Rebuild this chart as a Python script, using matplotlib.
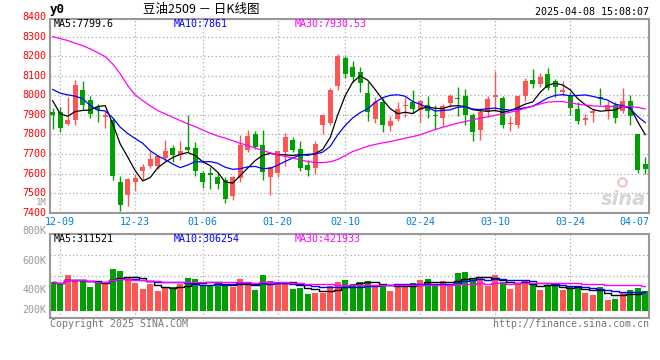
#!/usr/bin/env python3
"""
Sina style daily K-line chart for soybean oil futures (豆油2509).
Candles with MA5/MA10/MA30 on top, volume bars with their MAs below.
"""

import numpy as np
import pandas as pd
import matplotlib
matplotlib.use("Agg")
import matplotlib.pyplot as plt

W, H = 660, 360

# trading days 2024-12-06 .. 2025-04-08 (exchange holidays removed)
holidays = ['2025-01-01', '2025-01-28', '2025-01-29', '2025-01-30', '2025-01-31',
            '2025-02-03', '2025-02-04', '2025-04-04']
dates = pd.bdate_range('2024-12-06', '2025-04-08', freq='C', holidays=holidays)
day_labels = dates.strftime('%m-%d').tolist()

tick_labels = ['12-09', '12-23', '01-06', '01-20', '02-10', '02-24', '03-10', '03-24']
last_label = '04-07'

opens = [7915, 7915, 7854, 7875, 8028, 7977, 7939, 7887, 7875, 7556,
         7488, 7559, 7611, 7641, 7641, 7682, 7732, 7697, 7738, 7732,
         7602, 7602, 7582, 7565, 7483, 7576, 7721, 7801, 7747, 7582,
         7602, 7709, 7772, 7726, 7645, 7628, 7849, 7861, 8050, 8191,
         8144, 8118, 8013, 7880, 7965, 7841, 7880, 7943, 7965, 7926,
         7948, 7900, 7885, 7961, 7987, 7999, 7900, 7825, 7917, 7992,
         7985, 7851, 7849, 7999, 8079, 8059, 8110, 8072, 8016, 7999,
         7931, 7876, 7910, 7990, 7926, 7948, 7919, 7972, 7803, 7650]
highs = [7936, 7941, 7989, 8076, 8074, 7997, 7956, 7919, 7883, 7590,
         7578, 7600, 7650, 7716, 7696, 7772, 7747, 7764, 7897, 7760,
         7611, 7634, 7607, 7585, 7590, 7795, 7825, 7818, 7825, 7634,
         7713, 7808, 7789, 7767, 7667, 7766, 7905, 8036, 8212, 8200,
         8174, 8144, 8067, 7990, 7985, 7893, 7968, 7990, 8025, 7977,
         7999, 7948, 7956, 8007, 8045, 8033, 7910, 7936, 7994, 8122,
         7999, 7893, 8002, 8088, 8135, 8113, 8140, 8084, 8072, 8016,
         7968, 7905, 7931, 8038, 7970, 7965, 8036, 8002, 7803, 7687]
lows = [7829, 7815, 7849, 7846, 7927, 7885, 7863, 7834, 7568, 7411,
        7432, 7512, 7568, 7628, 7624, 7663, 7658, 7670, 7709, 7590,
        7527, 7522, 7519, 7450, 7466, 7556, 7709, 7726, 7565, 7493,
        7585, 7641, 7709, 7611, 7590, 7599, 7800, 7849, 8025, 8088,
        8067, 8016, 7871, 7859, 7815, 7820, 7871, 7888, 7910, 7863,
        7885, 7829, 7841, 7939, 7892, 7849, 7769, 7774, 7888, 7922,
        7832, 7820, 7832, 7973, 8036, 8045, 8025, 7990, 7996, 7900,
        7854, 7849, 7866, 7953, 7880, 7859, 7910, 7849, 7604, 7599]
closes = [7897, 7835, 7875, 8053, 7953, 7907, 7926, 7897, 7590, 7437,
          7573, 7578, 7634, 7675, 7689, 7716, 7697, 7714, 7723, 7611,
          7559, 7594, 7548, 7471, 7585, 7747, 7791, 7738, 7607, 7633,
          7713, 7788, 7723, 7628, 7616, 7752, 7900, 8028, 8203, 8110,
          8096, 8062, 7914, 7965, 7849, 7871, 7931, 7951, 7931, 7970,
          7922, 7892, 7946, 7994, 7982, 7897, 7815, 7917, 7982, 8002,
          7849, 7859, 7994, 8071, 8059, 8096, 8038, 8045, 8025, 7936,
          7871, 7883, 7922, 7982, 7953, 7885, 7973, 7892, 7619, 7624]
# closes before the window, estimated from where MA5/MA10 start
pre_closes = [8025, 7965, 8113, 8093, 8244, 8170, 7935, 7933, 7925]
# MA30 (needs a month of history not shown)
ma30 = [8300, 8290, 8280, 8266, 8254, 8237, 8218, 8198, 8160, 8110,
        8050, 8002, 7973, 7946, 7922, 7905, 7888, 7871, 7854, 7840,
        7823, 7806, 7792, 7781, 7768, 7755, 7744, 7730, 7718, 7706,
        7696, 7688, 7680, 7670, 7662, 7656, 7656, 7660, 7672, 7692,
        7713, 7726, 7740, 7749, 7757, 7764, 7772, 7781, 7789, 7798,
        7812, 7825, 7837, 7847, 7858, 7866, 7875, 7883, 7890, 7898,
        7905, 7914, 7921, 7934, 7944, 7956, 7965, 7968, 7968, 7961,
        7955, 7950, 7946, 7944, 7943, 7943, 7943, 7943, 7938, 7930]
volumes = [490, 463, 603, 519, 502, 401, 473, 473, 705, 671,
           564, 463, 367, 451, 338, 395, 395, 446, 553, 536,
           434, 429, 463, 434, 395, 536, 434, 350, 603, 502,
           463, 463, 367, 384, 282, 299, 299, 426, 485, 519,
           451, 485, 502, 434, 417, 338, 417, 451, 468, 519,
           536, 434, 502, 417, 637, 654, 553, 570, 423, 603,
           485, 367, 468, 502, 439, 350, 417, 429, 350, 406,
           389, 299, 265, 401, 181, 198, 294, 350, 384, 333]  # thousands

price_ticks = [7400, 7500, 7600, 7700, 7800, 7900, 8000, 8100, 8200, 8300, 8400]
vol_tick_labels = ['800K', '600K', '400K', '200K']

title_main = '豆油2509 － 日K线图'
stamp = '2025-04-08 15:08:07'
ma_texts = ['MA5:7799.6', 'MA10:7861', 'MA30:7930.53']
vol_ma_texts = ['MA5:311521', 'MA10:306254', 'MA30:421933']

RED = '#FF5555'
GREEN = '#00A000'
MA_COLORS = ['black', '#0000FF', '#FF00FF']
FRAME = '#999999'
GRID = '#AAAAAA'
MONO = 'DejaVu Sans Mono'
CJK = ['Noto Sans CJK SC', 'DejaVu Sans']


def px(x, y):
    """pixel position -> figure fraction"""
    return x / W, 1 - y / H


def style_axes(ax, xticks):
    for s in ax.spines.values():
        s.set_color(FRAME)
        s.set_linewidth(1.5)
    ax.set_xticks([])
    ax.set_yticks([])
    for x in xticks:
        ax.axvline(x, color=GRID, lw=0.9, ls=(0, (1, 2)), zorder=0)


def draw_price(ax, x, xticks):
    o, h, l, c = map(np.asarray, (opens, highs, lows, closes))
    cols = np.where(c >= o, RED, GREEN)
    ax.vlines(x, l, h, colors=cols, lw=1, zorder=2)
    body = np.maximum(np.abs(c - o), 5)
    ax.bar(x, body, bottom=np.minimum(o, c), width=0.7, color=cols, lw=0, zorder=3)

    ext = pd.Series(pre_closes + closes)
    n0 = len(pre_closes)
    ma5 = ext.rolling(5).mean().to_numpy()[n0:]
    ma10 = ext.rolling(10).mean().to_numpy()[n0:]
    for vals, col in zip([ma5, ma10, ma30], MA_COLORS):
        ax.plot(x, vals, color=col, lw=0.9, zorder=4)

    for p in price_ticks[1:-1]:
        ax.axhline(p, color=GRID, lw=0.9, ls=(0, (1, 2)), zorder=0)
    ax.set_xlim(-0.36, 79.5)
    ax.set_ylim(7400, 8390)
    style_axes(ax, xticks)

    for p in price_ticks:
        ax.text(-0.006, p, str(p), transform=ax.get_yaxis_transform(),
                ha='right', va='center', color='#FF0000', fontsize=7.2,
                family=MONO, clip_on=False)

    # watermark
    ax.text(0.995, 0.07, 'sina', transform=ax.transAxes, ha='right', va='center',
            fontsize=14, fontweight='bold', style='italic', color='#D6D6D6', zorder=1)
    ax.plot(0.955, 0.16, 'o', transform=ax.transAxes, ms=6, mfc='none',
            mec='#F2C0C0', mew=1.5, zorder=1)


def draw_volume(ax, x, xticks):
    v = np.asarray(volumes) * 1000.0
    cols = np.where(np.asarray(closes) >= np.asarray(opens), RED, GREEN)
    ax.bar(x, v, width=0.8, color=cols, lw=0, zorder=2)
    vs = pd.Series(v)
    for n, col in zip([5, 10, 30], MA_COLORS):
        ax.plot(x, vs.rolling(n, min_periods=1).mean(), color=col, lw=1,
                drawstyle='steps-mid', zorder=3)
    for frac in [0.25, 0.5, 0.75]:
        ax.plot([0, 1], [frac, frac], transform=ax.transAxes, color=GRID,
                lw=0.9, ls=(0, (1, 2)), zorder=0)
    ax.set_xlim(-0.36, 79.5)
    ax.set_ylim(-128000, 1291000)
    style_axes(ax, xticks)


def main():
    fig = plt.figure(figsize=(W / 100, H / 100), dpi=100)
    fig.patch.set_facecolor('white')

    x = np.arange(len(closes))
    xticks = [day_labels.index(t) for t in tick_labels]

    ax = fig.add_axes([50 / W, 1 - 212.7 / H, 599 / W, 193.7 / H])
    draw_price(ax, x, xticks)

    axv = fig.add_axes([50 / W, 1 - 318.3 / H, 599 / W, 84 / H])
    draw_volume(axv, x, xticks)

    # header
    fig.text(*px(50, 10), 'y0', fontsize=9, fontweight='bold', family=MONO,
             va='center', ha='left')
    fig.text(*px(201, 10), title_main, fontsize=9, family=CJK, va='center', ha='center')
    fig.text(*px(649, 12), stamp, fontsize=7.2, family=MONO, va='center', ha='right')

    for txt, col, xp in zip(ma_texts, MA_COLORS, [54, 174, 295]):
        fig.text(*px(xp, 24), txt, fontsize=7.2, family=MONO, color=col, va='center')
    for txt, col, xp in zip(vol_ma_texts, MA_COLORS, [54, 174, 295]):
        fig.text(*px(xp, 238.5), txt, fontsize=7.2, family=MONO, color=col, va='center')

    # date labels under the price panel
    for t, xi in zip(tick_labels, xticks):
        xp = 52.7 + 7.5 * xi
        fig.text(*px(xp, 221.7), t, fontsize=7.2, family=MONO, color='#0080D8',
                 ha='center', va='center')
    fig.text(*px(649, 221.7), last_label, fontsize=7.2, family=MONO, color='#0080D8',
             ha='right', va='center')

    # volume axis labels (placed as on the original)
    fig.text(*px(46.7, 202.8), '1M', fontsize=6.5, family=MONO, color='#999999',
             ha='right', va='center')
    for lab, yp in zip(vol_tick_labels, [230.7, 261, 290, 310]):
        fig.text(*px(46.7, yp), lab, fontsize=7.2, family=MONO, color='#999999',
                 ha='right', va='center')

    fig.text(*px(50, 324), 'Copyright 2025 SINA.COM', fontsize=7.2, family=MONO,
             color='#777777', va='center', ha='left')
    fig.text(*px(649, 324), 'http://finance.sina.com.cn', fontsize=7.2, family=MONO,
             color='#777777', va='center', ha='right')

    fig.savefig('out.png', dpi=100)


if __name__ == "__main__":
    main()
